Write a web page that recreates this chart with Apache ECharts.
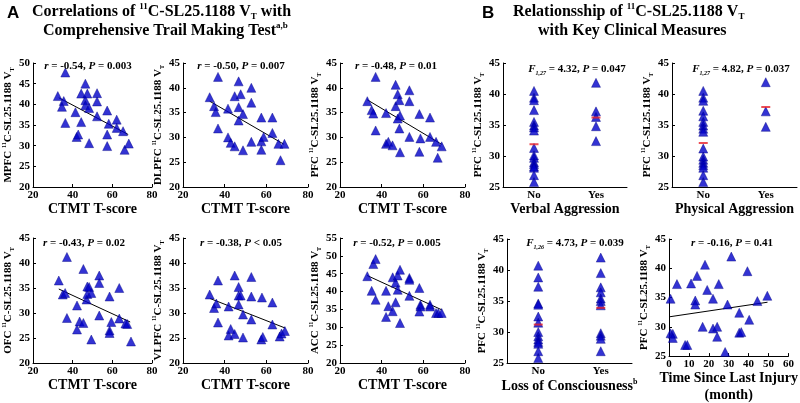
<!DOCTYPE html>
<html><head><meta charset="utf-8">
<script src="https://cdn.jsdelivr.net/npm/echarts@6/dist/echarts.min.js"></script>
<style>html,body{margin:0;padding:0;background:#fff}#c{width:800px;height:403px}</style>
</head><body><div id="c"></div>
<script>
// ---------------- DATA ----------------
const ctmtTicks = [20, 40, 60, 80];
const ctmtMPFC = [[36.3,47.7],[32.5,42.0],[35.5,40.8],[34.6,39.4],[36.3,35.5],[41.4,38.1],[42,32.1],[42.8,32.7],[44.3,35.7],[46.4,45.0],[44.3,42.6],[46.4,41.0],[47.4,42.6],[46.4,39.8],[48.3,39.1],[48.3,30.6],[52.3,42.7],[52.3,40.7],[52.3,37.1],[57.4,38.5],[57.4,32.7],[57.4,29.9],[58.2,35.3],[62.2,36.3],[62.2,34.3],[65.4,33.5],[66.2,29.0],[68.3,30.5]];
const fitMPFC = [[33,41.6],[68,32.7]];
const ctmtDLPFC = [[32.8,38.1],[34.9,36.3],[35.7,35.1],[36.8,42.2],[36.8,31.8],[41.6,35.8],[41.6,30],[42.9,28.9],[44.8,28.2],[44.8,38.3],[46.7,41.3],[46.7,36.1],[46.7,33.4],[47.7,38.7],[48.8,34.7],[48.8,27.4],[52.8,40],[52.8,37],[52.8,29.1],[57.6,34],[57.6,29.2],[57.6,27.5],[58.7,30.1],[62.9,34],[62.9,30.9],[65.8,28.7],[68.7,28.7],[66.8,25.4]];
const fitDLPFC = [[32.8,37.3],[68.5,28.6]];
const ctmtPFC = [[33.1,37.3],[35.2,35.5],[36,34.8],[37.1,42.2],[37.1,31.4],[42.1,34.9],[42.1,28.7],[43.2,29.1],[45.2,28.4],[46.7,40.6],[47.7,38.7],[46.7,36.3],[47.7,33.8],[48.8,34.4],[48.8,27.0],[48.5,37.5],[48.5,31.8],[53.3,39.5],[53.3,37.3],[53.3,30.1],[58.1,34.7],[58.1,27.1],[58.6,29.8],[63.2,34],[63.2,30.1],[66.1,29.1],[66.9,25.9],[68.8,28.2]];
const fitPFC = [[33,37.6],[68.8,28.6]];
const ctmtOFC = [[33,36.5],[35,33.7],[36.2,34],[37.1,41.2],[37.1,29],[42.2,31.5],[42.2,26.7],[43.5,28.3],[45.4,38.8],[45.4,28],[47,32.7],[47.4,35.3],[47.4,33.8],[48.3,35.2],[49.4,34],[49.4,24.7],[53.4,37.5],[53.4,36],[53.4,29.5],[58.6,33.3],[58.6,26.5],[58.6,26],[59.5,28.2],[63.5,35],[63.5,28.9],[66.6,27.9],[67.5,27.8],[69.4,24.3]];
const fitOFC = [[33,34.8],[69,28.2]];
const ctmtVLPFC = [[32.8,33.7],[34.9,31],[36,31.9],[36.8,36.5],[36.8,28.1],[41.9,31.3],[41.9,25.5],[42.9,26.8],[44.8,37.5],[44.8,25.8],[46.7,35.2],[46.7,33.5],[46.7,31.7],[47.7,33.5],[48.8,29.7],[48.8,25.1],[52.8,37.2],[52.8,33.3],[52.8,28.7],[57.9,33.1],[57.6,24.7],[58.3,25.2],[62.9,32.1],[62.9,27.7],[66.4,25.3],[67.3,25.9],[68.9,26.4]];
const fitVLPFC = [[33,32.9],[69,27]];
const ctmtACC = [[33.1,44.3],[35.2,40.2],[36,47.7],[37.1,49.1],[37.1,37.7],[42.1,40.2],[42.1,32.9],[43.2,35.9],[45.3,44],[45.3,34.5],[46.7,42.5],[47.7,44.5],[47.7,40.5],[48.8,46.1],[48.8,31.2],[46.7,37],[53.3,43.8],[53.3,43.3],[53.3,38.8],[58.1,41],[58.6,36.3],[58.6,35.8],[58.1,34.4],[63.2,36.3],[63.2,35.8],[66.1,34],[67.2,34],[68.8,34]];
const fitACC = [[33,44.5],[68.8,34.9]];

const groupLabels = ['No', 'Yes'];
const verbalNo = [40.5,39.4,39,37.4,35.5,34.9,34.6,34.1,31.3,30.1,29.7,29,28.7,28.3,28.1,26.9,25.8];
const verbalYes = [41.8,37.2,36.3,34.8,32.4];
const verbalMean = [31.9, 36.2];
const physicalNo = [40.5,39.4,38.9,37.3,36.4,35.5,34.9,34.4,33.9,31.2,29.9,29.4,28.9,28.5,28.1,26.9,25.8];
const physicalYes = [41.9,37.2,34.7];
const physicalMean = [32.1, 37.9];
const locNo = [40.7,38.8,37.3,34.6,34.4,32.5,31.5,30,29.3,28.8,28.4,28.1,26.9,25.8];
const locYes = [42,39.5,37.2,36.4,35.4,35,34.3,29.8,29.4,28.9,26.9];
const locMean = [31.2, 33.9];

const injuryMonths = [[0.8,34.8],[0.8,28.9],[1.9,28.8],[1.9,28.1],[4,37.3],[8.1,26.9],[9.2,26.9],[11.1,37.4],[13.2,34.5],[13.2,33.8],[14.1,38.7],[16.9,30],[18.1,40.6],[19.2,36.3],[22.1,34.8],[22.1,29.7],[24.2,30],[24.2,28.3],[25,37.3],[28.2,25.7],[29.4,33.8],[31.3,42],[35.3,32.4],[35.3,29],[36.3,29.1],[40.3,31.2],[39.4,39.5],[44.4,34.4],[49.4,35.3]];
const fitInjury = [[0,31.7],[49.5,34.2]];

const statsA = ['r = -0.54, P = 0.003','r = -0.50, P = 0.007','r = -0.48, P = 0.01','r = -0.43, P = 0.02','r = -0.38, P < 0.05','r = -0.52, P = 0.005'];
const statsB = [['1,27','4.32','0.047'],['1,27','4.82','0.037'],['1,26','4.73','0.039']];
const statInjury = 'r = -0.16, P = 0.41';

// ---------------- STYLE / LAYOUT ----------------
const SERIF = '"Liberation Serif","Times New Roman",serif';
const SANS = '"Liberation Sans",Arial,sans-serif';
const BLUE = '#0000c8';
const RED = '#e8202a';
const fs = 11;

function richBase(size){
  return {
    b:{fontFamily:SERIF,fontWeight:'bold',fontSize:size,color:'#000',lineHeight:size+3},
    i:{fontFamily:SERIF,fontWeight:'bold',fontStyle:'italic',fontSize:size,color:'#000',lineHeight:size+3},
    sup:{fontFamily:SERIF,fontWeight:'bold',fontSize:Math.round(size*0.55),color:'#000',verticalAlign:'top',lineHeight:size+3},
    sub:{fontFamily:SERIF,fontWeight:'bold',fontSize:Math.round(size*0.55),color:'#000',verticalAlign:'bottom',lineHeight:size+3},
    subi:{fontFamily:SERIF,fontWeight:'bold',fontStyle:'italic',fontSize:Math.round(size*0.55),color:'#000',verticalAlign:'bottom',lineHeight:size+3}
  };
}
function yName(region){ return `{b|${region} }{sup|11}{b|C-SL25.1188 V}{sub|T}`; }

const panels = [
  {g:{left:27,top:63,width:125,height:124}, kind:'s', data:ctmtMPFC, fit:fitMPFC, ymin:20,ymax:50, yn:'MPFC', xn:'{b|CTMT T-score}', st:statsA[0], sp:[88,66]},
  {g:{left:183,top:63,width:125,height:124}, kind:'s', data:ctmtDLPFC, fit:fitDLPFC, ymin:20,ymax:45, yn:'DLPFC', xn:'{b|CTMT T-score}', st:statsA[1], sp:[241,66]},
  {g:{left:340,top:63,width:125,height:124}, kind:'s', data:ctmtPFC, fit:fitPFC, ymin:20,ymax:45, yn:'PFC', xn:'{b|CTMT T-score}', st:statsA[2], sp:[396,66]},
  {g:{left:27,top:238,width:125,height:125}, kind:'s', data:ctmtOFC, fit:fitOFC, ymin:20,ymax:45, yn:'OFC', xn:'{b|CTMT T-score}', st:statsA[3], sp:[84,243]},
  {g:{left:183,top:238,width:125,height:125}, kind:'s', data:ctmtVLPFC, fit:fitVLPFC, ymin:20,ymax:45, yn:'VLPFC', xn:'{b|CTMT T-score}', st:statsA[4], sp:[241,243]},
  {g:{left:340,top:238,width:125,height:125}, kind:'s', data:ctmtACC, fit:fitACC, ymin:20,ymax:55, yn:'ACC', xn:'{b|CTMT T-score}', st:statsA[5], sp:[397,243]},
  {g:{left:503,top:63,width:124,height:124}, kind:'c', no:verbalNo, yes:verbalYes, mean:verbalMean, ymin:25,ymax:45, yn:'PFC', xn:'{b|Verbal Aggression}', fst:statsB[0], sp:[577,69]},
  {g:{left:672,top:63,width:125,height:124}, kind:'c', no:physicalNo, yes:physicalYes, mean:physicalMean, ymin:25,ymax:45, yn:'PFC', xn:'{b|Physical Aggression}', fst:statsB[1], sp:[741,69]},
  {g:{left:507,top:239,width:125,height:124}, kind:'c', no:locNo, yes:locYes, mean:locMean, ymin:25,ymax:45, yn:'PFC', xn:'{b|Loss of Consciousness}{sup|b}', fst:statsB[2], sp:[575,243]},
  {g:{left:669,top:239,width:124,height:124}, kind:'t', data:injuryMonths, fit:fitInjury, ymin:25,ymax:45, yn:'PFC', xn:'{b|Time Since Last Injury}\n{b|(month)}', st:statInjury, sp:[732,243]}
];

const grid=[], xAxis=[], yAxis=[], series=[], graphic=[];
const axisLineStyle = {show:true,lineStyle:{color:'#000',width:1}};
const tickStyle = {show:true,inside:true,length:3,lineStyle:{color:'#000',width:1}};
const labelStyle = {color:'#000',fontFamily:SERIF,fontWeight:'bold',fontSize:fs,margin:3};

function statRich(s){
  const m = s.match(/^r (.*), P (.*)$/);
  return `{i|r}{b| ${m[1]}, }{i|P}{b| ${m[2]}}`;
}

panels.forEach((p,i)=>{
  grid.push(Object.assign({containLabel:false}, p.g));
  const xa = {gridIndex:i,type:'value',axisLine:axisLineStyle,splitLine:{show:false},
    axisLabel:Object.assign({},labelStyle),
    name:p.xn,nameLocation:'middle',nameGap:13,
    nameTextStyle:{rich:richBase(14)}};
  if(p.kind==='s'){ Object.assign(xa,{min:20,max:80,interval:20,axisTick:tickStyle}); }
  else if(p.kind==='t'){ Object.assign(xa,{min:0,max:60,interval:10,axisTick:tickStyle}); }
  else {
    Object.assign(xa,{min:0.5,max:2.5,axisTick:{show:false},
      axisLabel:Object.assign({},labelStyle,{customValues:[1,2],formatter:v=>groupLabels[Math.round(v)-1]||''})});
  }
  xAxis.push(xa);
  yAxis.push({gridIndex:i,type:'value',min:p.ymin,max:p.ymax,interval:5,axisLine:axisLineStyle,axisTick:tickStyle,
    splitLine:{show:false},axisLabel:Object.assign({},labelStyle),
    name:yName(p.yn),nameLocation:'middle',nameRotate:90,nameGap:18,nameTextStyle:{rich:richBase(11)}});

  const tri = {type:'scatter',xAxisIndex:i,yAxisIndex:i,symbol:'triangle',symbolSize:9,
    itemStyle:{color:BLUE,borderColor:'#000080',borderWidth:0.5},z:3};
  if(p.kind==='s' || p.kind==='t'){
    series.push(Object.assign({},tri,{data:p.data}));
    series.push({type:'line',xAxisIndex:i,yAxisIndex:i,data:p.fit,symbol:'none',
      lineStyle:{color:'#000',width:1},z:2});
  } else {
    series.push(Object.assign({},tri,{data:p.no.map(v=>[1,v])}));
    series.push(Object.assign({},tri,{data:p.yes.map(v=>[2,v])}));
    series.push({type:'scatter',xAxisIndex:i,yAxisIndex:i,symbol:'rect',symbolSize:[9,2],
      itemStyle:{color:RED},z:4,data:p.mean.map((v,k)=>[k+1,v])});
  }
  let txt;
  if(p.st) txt = statRich(p.st);
  else txt = `{i|F}{subi|${p.fst[0]}}{b| = ${p.fst[1]}, }{i|P}{b| = ${p.fst[2]}}`;
  graphic.push({type:'text',x:p.sp[0],y:p.sp[1],z:10,
    style:{text:txt,rich:richBase(11),align:'center',verticalAlign:'middle',textAlign:'center',textVerticalAlign:'middle'}});
});

// titles
graphic.push({type:'text',x:7,y:13,style:{text:'A',font:'bold 17px '+SANS,fill:'#000',align:'left',verticalAlign:'middle',textAlign:'left',textVerticalAlign:'middle'}});
graphic.push({type:'text',x:32,y:12,style:{text:'{b|Correlations of }{sup|11}{b|C-SL25.1188 V}{sub|T}{b| with}',rich:richBase(16),align:'left',verticalAlign:'middle',textAlign:'left',textVerticalAlign:'middle'}});
graphic.push({type:'text',x:43,y:31,style:{text:'{b|Comprehensive Trail Making Test}{sup|a,b}',rich:richBase(16),align:'left',verticalAlign:'middle',textAlign:'left',textVerticalAlign:'middle'}});
graphic.push({type:'text',x:482,y:13,style:{text:'B',font:'bold 17px '+SANS,fill:'#000',align:'left',verticalAlign:'middle',textAlign:'left',textVerticalAlign:'middle'}});
graphic.push({type:'text',x:513,y:12,style:{text:'{b|Relationsship of }{sup|11}{b|C-SL25.1188 V}{sub|T}',rich:richBase(16),align:'left',verticalAlign:'middle',textAlign:'left',textVerticalAlign:'middle'}});
graphic.push({type:'text',x:538,y:31,style:{text:'{b|with Key Clinical Measures}',rich:richBase(16),align:'left',verticalAlign:'middle',textAlign:'left',textVerticalAlign:'middle'}});

const chart = echarts.init(document.getElementById('c'));
chart.setOption({animation:false,backgroundColor:'#fff',grid,xAxis,yAxis,series,graphic});
</script></body></html>
